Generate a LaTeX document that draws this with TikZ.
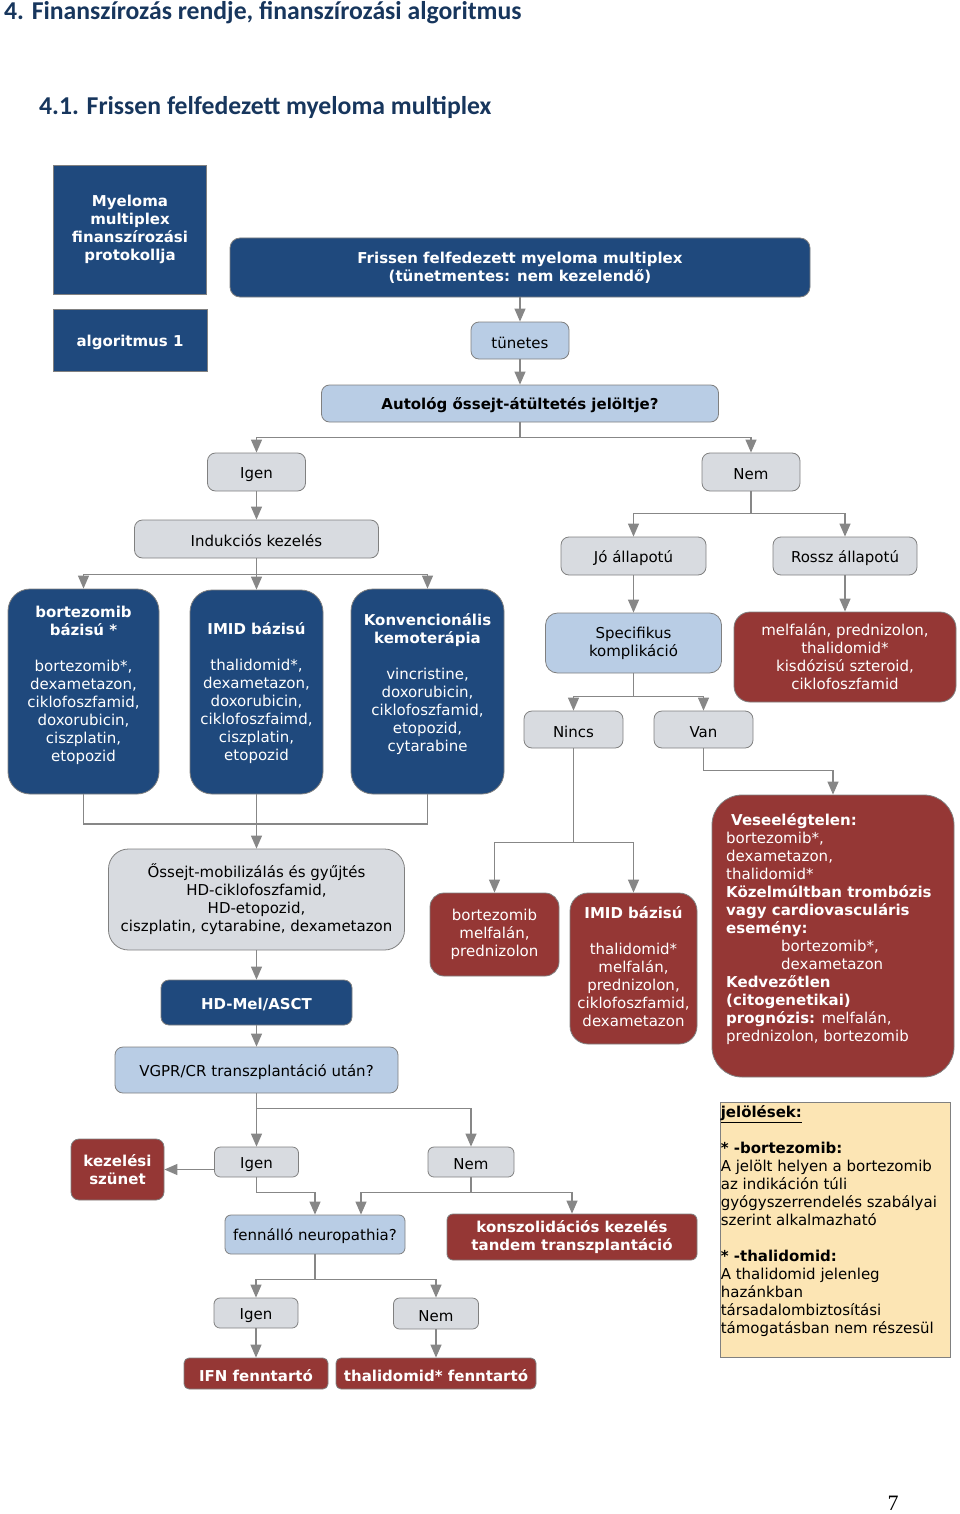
\documentclass[tikz,border=0pt]{standalone}
\usepackage{fontspec}
\usetikzlibrary{arrows.meta}
\newfontfamily\vfont{DejaVu Sans}
\newfontfamily\cfont{Carlito}
\newfontfamily\sfont{Liberation Serif}
\definecolor{darkblue}{RGB}{31,73,125}
\definecolor{lightblue}{RGB}{185,205,229}
\definecolor{boxgray}{RGB}{216,219,224}
\definecolor{darkred}{RGB}{149,55,53}
\definecolor{tan}{RGB}{252,229,180}
\definecolor{bordergray}{RGB}{128,128,128}
\definecolor{linegray}{RGB}{135,135,135}
\definecolor{titleblue}{RGB}{23,54,93}
\newcommand\regf{\vfont\fontsize{15}{18}\selectfont}
\newcommand\bldf{\vfont\bfseries\fontsize{15}{18}\selectfont}
\tikzset{
  bx/.style={draw=bordergray, line width=0.8pt, inner sep=0pt, align=center, rounded corners=#1,
    execute at begin node={\rule{0pt}{16pt}}},
  bx/.default=8pt,
  gb/.style={bx=#1, fill=boxgray, font=\regf, text=black},
  gb/.default=8pt,
  lb/.style={bx=#1, fill=lightblue, font=\regf, text=black},
  lb/.default=8pt,
  db/.style={bx=#1, fill=darkblue, font=\bldf, text=white},
  db/.default=8pt,
  rb/.style={bx=#1, fill=darkred, font=\regf, text=white},
  rb/.default=8pt,
  sz/.style 2 args={minimum width=#1pt, minimum height=#2pt},
  conn/.style={draw=linegray, line width=1.2pt},
  arr/.style={conn, -{Triangle[width=11pt,length=13pt]}},
  txt/.style={inner sep=0pt, align=center, font=\regf, text=white},
  ttl/.style={anchor=west, inner sep=0pt, font=\cfont\bfseries\fontsize{25.7}{30}\selectfont, text=titleblue},
}
\begin{document}
\begin{tikzpicture}[x=1pt,y=-1pt]
\useasboundingbox (0,0) rectangle (960,1514);
% titles
\node[ttl] (t1) at (4,13) {4. Finanszírozás rendje, finanszírozási algoritmus};
\node[ttl] (t2) at (39,107) {4.1. Frissen felfedezett myeloma multiplex};
\node[font=\sfont\fontsize{22}{26}\selectfont, inner sep=0pt] (pg) at (893,1503) {7};

% header
\node[db=0pt, sz={153}{129}] (hdr1) at (130,229.5) {Myeloma\\multiplex\\finanszírozási\\protokollja};
\node[db=0pt, sz={154}{62}] (hdr2) at (130,340) {algoritmus 1};
\node[db=10pt, sz={580}{59}] (fris) at (520,267.5) {Frissen felfedezett myeloma multiplex\\(tünetmentes: nem kezelendő)};
\node[lb, sz={98}{37}] (tun) at (520,340.5) {tünetes};
\node[lb, font=\bldf, sz={397}{37}] (aut) at (520,403.5) {Autológ őssejt-átültetés jelöltje?};
\node[gb, sz={98}{38}] (ig1) at (256.5,472) {Igen};
\node[gb, sz={98}{38}] (nem1) at (751,472) {Nem};
\node[gb, sz={244}{38}] (ind) at (256.5,539) {Indukciós kezelés};

% induction boxes
\node[db=22pt, sz={151}{205}] (bort) at (83.5,691.5) {};
\node[txt] (bortT) at ([yshift=6.5pt]bort.center) {\textbf{bortezomib}\\\textbf{bázisú *}\\[18pt]bortezomib*,\\dexametazon,\\ciklofoszfamid,\\doxorubicin,\\ciszplatin,\\etopozid};
\node[db=22pt, sz={133}{204}] (imid) at (256.5,692) {};
\node[txt] (imidT) at ([yshift=-1pt]imid.center) {\textbf{IMID bázisú}\\[18pt]thalidomid*,\\dexametazon,\\doxorubicin,\\ciklofoszfaimd,\\ciszplatin,\\etopozid};
\node[db=22pt, sz={153}{205}] (konv) at (427.5,691.5) {};
\node[txt] (konvT) at ([yshift=7pt]konv.center) {\textbf{Konvencionális}\\\textbf{kemoterápia}\\[18pt]vincristine,\\doxorubicin,\\ciklofoszfamid,\\etopozid,\\cytarabine};

% right branch
\node[gb, sz={145}{38}] (jo) at (633.5,556) {Jó állapotú};
\node[gb, sz={144}{38}] (rossz) at (845,556) {Rossz állapotú};
\node[lb=12pt, sz={176}{60}] (spec) at (633.5,643) {Specifikus\\komplikáció};
\node[rb=16pt, sz={222}{90}] (mpt) at (845,657) {melfalán, prednizolon,\\thalidomid*\\kisdózisú szteroid,\\ciklofoszfamid};
\node[gb, sz={99}{37}] (nincs) at (573.5,729.5) {Nincs};
\node[gb, sz={99}{37}] (van) at (703.5,729.5) {Van};
\node[rb=14pt, sz={129}{83}] (bmp) at (494.5,934.5) {bortezomib\\melfalán,\\prednizolon};
\node[rb=18pt, sz={127}{151}] (imr) at (633.5,968.5) {};
\node[txt] (imrT) at ([yshift=2pt]imr.center) {\textbf{IMID bázisú}\\[18pt]thalidomid*\\melfalán,\\prednizolon,\\ciklofoszfamid,\\dexametazon};
\node[rb=30pt, sz={242}{282}] (vese) at (833,936) {};
\node[txt, align=left, anchor=west] (veseT) at (726,929) {\hspace*{5pt}\textbf{Veseelégtelen:}\\bortezomib*,\\dexametazon,\\thalidomid*\\\textbf{Közelmúltban trombózis}\\\textbf{vagy cardiovasculáris}\\\textbf{esemény:}\\\hspace*{55pt}bortezomib*,\\\hspace*{55pt}dexametazon\\\textbf{Kedvezőtlen}\\\textbf{(citogenetikai)}\\\textbf{prognózis:} melfalán,\\prednizolon, bortezomib};

% transplant path
\node[gb=20pt, sz={296}{101}] (oss) at (256.5,899.5) {Őssejt-mobilizálás és gyűjtés\\HD-ciklofoszfamid,\\HD-etopozid,\\ciszplatin, cytarabine, dexametazon};
\node[db, sz={191}{45}] (hdmel) at (256.5,1002.5) {HD-Mel/ASCT};
\node[lb, sz={283}{46}] (vgpr) at (256.5,1070) {VGPR/CR transzplantáció után?};
\node[rb, font=\bldf, sz={93}{61}] (kez) at (117.5,1169.5) {kezelési\\szünet};
\node[gb=6pt, sz={84}{30}] (ig2) at (256.5,1162) {Igen};
\node[gb=6pt, sz={86}{30}] (nem2) at (471,1162) {Nem};
\node[lb=6pt, sz={180}{39}] (fenn) at (315,1234.5) {fennálló neuropathia?};
\node[rb=6pt, font=\bldf, sz={250}{46}] (kons) at (572,1237) {konszolidációs kezelés\\tandem transzplantáció};
\node[gb=6pt, sz={84}{30}] (ig3) at (256,1313) {Igen};
\node[gb=6pt, sz={85}{31}] (nem3) at (436,1313.5) {Nem};
\node[rb=5pt, font=\bldf, sz={144}{31}] (ifn) at (256,1373.5) {IFN fenntartó};
\node[rb=5pt, font=\bldf, sz={200}{31}] (thf) at (436,1373.5) {thalidomid* fenntartó};

% legend
\node[draw=bordergray, line width=0.8pt, fill=tan, inner sep=0pt, sz={230}{255}] (leg) at (835,1229.5) {};
\node[txt, text=black, align=left, anchor=north west] (legT) at ([xshift=1pt,yshift=-4pt]leg.north west) {\textbf{\underline{jelölések:}}\\[18pt]\textbf{* -bortezomib:}\\A jelölt helyen a bortezomib\\az indikáción túli\\gyógyszerrendelés szabályai\\szerint alkalmazható\\[18pt]\textbf{* -thalidomid:}\\A thalidomid jelenleg\\hazánkban\\társadalombiztosítási\\támogatásban nem részesül};

% connectors
\draw[arr] (fris.south) -- (tun.north);
\draw[arr] (tun.south) -- (aut.north);
\draw[conn] (aut.south) -- ++(0,15) coordinate (jA);
\draw[conn] (jA -| ig1) -- (jA -| nem1);
\draw[arr] (jA -| ig1) -- (ig1.north);
\draw[arr] (jA -| nem1) -- (nem1.north);
\draw[arr] (ig1.south) -- (ind.north);
\draw[conn] (ind.south) -- ++(0,16) coordinate (jB);
\draw[conn] (jB -| bort) -- (jB -| konv);
\draw[arr] (jB -| bort) -- (bort.north);
\draw[arr] (jB) -- (imid.north);
\draw[arr] (jB -| konv) -- (konv.north);
\coordinate (jC) at (0,824);
\draw[conn] (bort.south) -- (bort.south |- jC) -- (konv.south |- jC) -- (konv.south);
\draw[arr] (imid.south) -- (oss.north);
\draw[arr] (oss.south) -- (hdmel.north);
\draw[arr] (hdmel.south) -- (vgpr.north);

\draw[conn] (nem1.south) -- ++(0,22) coordinate (jD);
\draw[conn] (jD -| jo) -- (jD -| rossz);
\draw[arr] (jD -| jo) -- (jo.north);
\draw[arr] (jD -| rossz) -- (rossz.north);
\draw[arr] (jo.south) -- (spec.north);
\draw[arr] (rossz.south) -- (mpt.north);
\draw[conn] (spec.south) -- ++(0,23) coordinate (jE);
\draw[conn] (jE -| nincs) -- (jE -| van);
\draw[arr] (jE -| nincs) -- (nincs.north);
\draw[arr] (jE -| van) -- (van.north);
\draw[conn] (nincs.south) -- ++(0,94) coordinate (jF);
\draw[conn] (jF -| bmp) -- (jF -| imr);
\draw[arr] (jF -| bmp) -- (bmp.north);
\draw[arr] (jF -| imr) -- (imr.north);
\draw[arr] (van.south) -- ++(0,22) -| (vese.north);

\draw[conn] (vgpr.south) -- ++(0,15) coordinate (jH);
\draw[conn] (jH) -- (jH -| nem2);
\draw[arr] (jH) -- (ig2.north);
\draw[arr] (jH -| nem2) -- (nem2.north);
\draw[arr] (ig2.west |- kez.east) -- (kez.east);
\draw[arr] (ig2.south) -- ++(0,15) -| (fenn.north);
\coordinate (fennR) at ([xshift=46pt]fenn.north);
\draw[conn] (nem2.south) -- ++(0,15) coordinate (jJ);
\draw[conn] (fennR |- jJ) -- (jJ -| kons);
\draw[arr] (fennR |- jJ) -- (fennR);
\draw[arr] (jJ -| kons) -- (kons.north);
\draw[conn] (fenn.south) -- ++(0,25) coordinate (jK);
\draw[conn] (jK -| ig3) -- (jK -| nem3);
\draw[arr] (jK -| ig3) -- (ig3.north);
\draw[arr] (jK -| nem3) -- (nem3.north);
\draw[arr] (ig3.south) -- (ifn.north);
\draw[arr] (nem3.south) -- (thf.north);
\end{tikzpicture}
\end{document}
